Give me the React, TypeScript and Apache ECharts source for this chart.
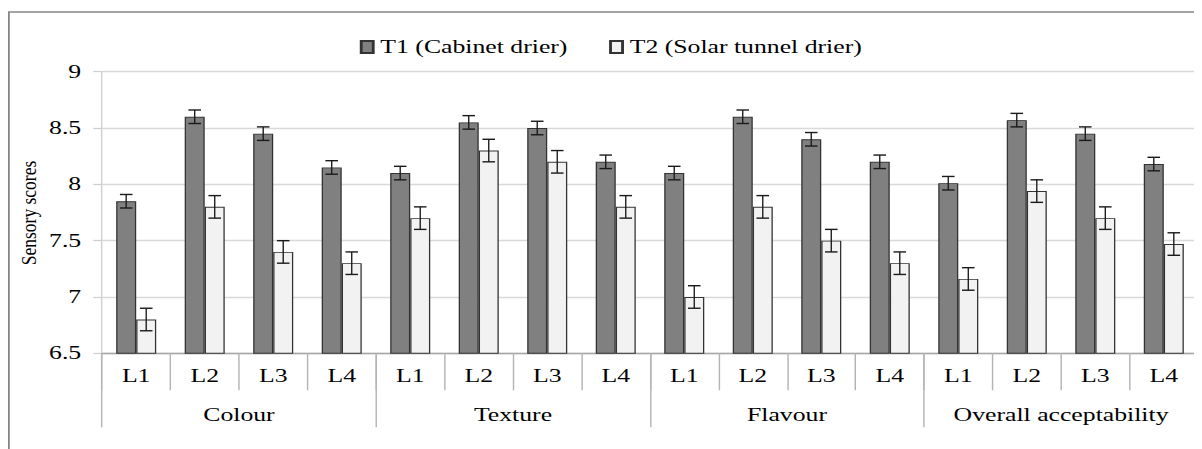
import React, { useEffect, useRef } from 'react';
import * as echarts from 'echarts';

const CATEGORIES = ['L1', 'L2', 'L3', 'L4', 'L1', 'L2', 'L3', 'L4', 'L1', 'L2', 'L3', 'L4', 'L1', 'L2', 'L3', 'L4'];
const GROUPS = ['Colour', 'Texture', 'Flavour', 'Overall acceptability'];
const SERIES_NAMES = ['T1 (Cabinet drier)', 'T2 (Solar tunnel drier)'];
const T1_VALUES = [7.85, 8.6, 8.45, 8.15, 8.1, 8.55, 8.5, 8.2, 8.1, 8.6, 8.4, 8.2, 8.01, 8.57, 8.45, 8.18];
const T2_VALUES = [6.8, 7.8, 7.4, 7.3, 7.7, 8.3, 8.2, 7.8, 7.0, 7.8, 7.5, 7.3, 7.16, 7.94, 7.7, 7.47];
const T1_ERRORS = [0.06, 0.06, 0.06, 0.06, 0.06, 0.06, 0.06, 0.06, 0.06, 0.06, 0.06, 0.06, 0.06, 0.06, 0.06, 0.06];
const T2_ERRORS = [0.1, 0.1, 0.1, 0.1, 0.1, 0.1, 0.1, 0.1, 0.1, 0.1, 0.1, 0.1, 0.1, 0.1, 0.1, 0.1];
const Y_MIN = 6.5;
const Y_MAX = 9;
const Y_STEP = 0.5;
const Y_TITLE = 'Sensory scores';

const SX = 1.43;
const W = 1194 / SX;
const H = 441;
const BAR_W = 14;
const FONT = "'Liberation Serif', 'Times New Roman', serif";

function errorSeries(name: string, values: number[], errors: number[], offset: number) {
  return {
    name,
    type: 'custom',
    silent: true,
    z: 10,
    encode: { x: 0, y: [1, 2] },
    data: values.map((v, i) => [i, v - errors[i], v + errors[i]]),
    renderItem: (_params: any, api: any) => {
      const i = api.value(0);
      const lo = api.coord([i, api.value(1)]);
      const hi = api.coord([i, api.value(2)]);
      const x = lo[0] + offset;
      const cap = 4.4;
      const vStyle = { stroke: '#1a1a1a', lineWidth: 0.95 };
      const hStyle = { stroke: '#1a1a1a', lineWidth: 1.4 };
      return {
        type: 'group',
        children: [
          { type: 'line', shape: { x1: x, y1: hi[1], x2: x, y2: lo[1] }, style: vStyle },
          { type: 'line', shape: { x1: x - cap, y1: hi[1], x2: x + cap, y2: hi[1] }, style: hStyle },
          { type: 'line', shape: { x1: x - cap, y1: lo[1], x2: x + cap, y2: lo[1] }, style: hStyle },
        ],
      };
    },
  };
}

export default function App() {
  const ref = useRef<HTMLDivElement>(null);

  useEffect(() => {
    document.body.style.overflow = 'hidden';
    document.documentElement.style.overflow = 'hidden';
    if (!ref.current) return;
    const chart = echarts.init(ref.current, null, { renderer: 'svg' });
    const axisTextStyle = { fontFamily: FONT, fontSize: 18, color: '#000' };
    chart.setOption({
      animation: false,
      backgroundColor: '#fff',
      legend: {
        data: SERIES_NAMES,
        left: 241,
        top: 25,
        icon: 'rect',
        itemWidth: 8.4,
        itemHeight: 12,
        itemGap: 29,
        textStyle: { fontFamily: FONT, fontSize: 18, color: '#000' },
      },
      grid: { left: 65.7, right: 2.8, top: 63.7, bottom: 95.7, containLabel: false },
      xAxis: [
        {
          type: 'category',
          data: CATEGORIES,
          position: 'bottom',
          axisLine: { show: true, lineStyle: { color: '#a6a6a6', width: 1.3 } },
          axisTick: { show: true, interval: 0, length: 37, lineStyle: { color: '#b4b4b4', width: 1 } },
          axisLabel: { interval: 0, margin: 14, ...axisTextStyle },
          splitLine: { show: false },
        },
        {
          type: 'category',
          data: GROUPS,
          position: 'bottom',
          offset: 0,
          axisLine: { show: false },
          axisTick: { show: true, interval: 0, length: 74, lineStyle: { color: '#b4b4b4', width: 1 } },
          axisLabel: { interval: 0, margin: 53, ...axisTextStyle },
          splitLine: { show: false },
        },
      ],
      yAxis: {
        type: 'value',
        min: Y_MIN,
        max: Y_MAX,
        interval: Y_STEP,
        axisLine: { show: true, lineStyle: { color: '#d0d0d0', width: 1 } },
        axisTick: { show: true, length: 6, lineStyle: { color: '#d0d0d0', width: 1.3 } },
        splitLine: { show: true, lineStyle: { color: '#d9d9d9', width: 1.3 } },
        axisLabel: { margin: 14.5, ...axisTextStyle },
      },
      graphic: [
        {
          type: 'rect',
          silent: true,
          z: -10,
          shape: { x: 0.6, y: 4, width: 3000, height: 3000 },
          style: { fill: 'none', stroke: '#868686', lineWidth: 1.3 },
        },
        {
          type: 'text',
          silent: true,
          x: 14.7,
          y: 205,
          rotation: Math.PI / 2,
          scaleY: 0.8,
          style: {
            text: Y_TITLE,
            fontFamily: FONT,
            fontSize: 17.5,
            fill: '#000',
            align: 'center',
            verticalAlign: 'middle',
          },
        },
      ],
      series: [
        {
          name: SERIES_NAMES[0],
          type: 'bar',
          xAxisIndex: 0,
          data: T1_VALUES,
          barWidth: BAR_W,
          barGap: '0%',
          itemStyle: { color: '#808080', borderColor: '#333', borderWidth: 0.9 },
        },
        {
          name: SERIES_NAMES[1],
          type: 'bar',
          xAxisIndex: 0,
          data: T2_VALUES,
          barWidth: BAR_W,
          barGap: '0%',
          itemStyle: { color: '#f2f2f2', borderColor: '#333', borderWidth: 0.9 },
        },
        errorSeries('T1 error', T1_VALUES, T1_ERRORS, -BAR_W / 2),
        errorSeries('T2 error', T2_VALUES, T2_ERRORS, BAR_W / 2),
      ],
    });
    return () => chart.dispose();
  }, []);

  return (
    <div
      ref={ref}
      style={{ width: W, height: H, transform: `scaleX(${SX})`, transformOrigin: '0 0' }}
    />
  );
}
